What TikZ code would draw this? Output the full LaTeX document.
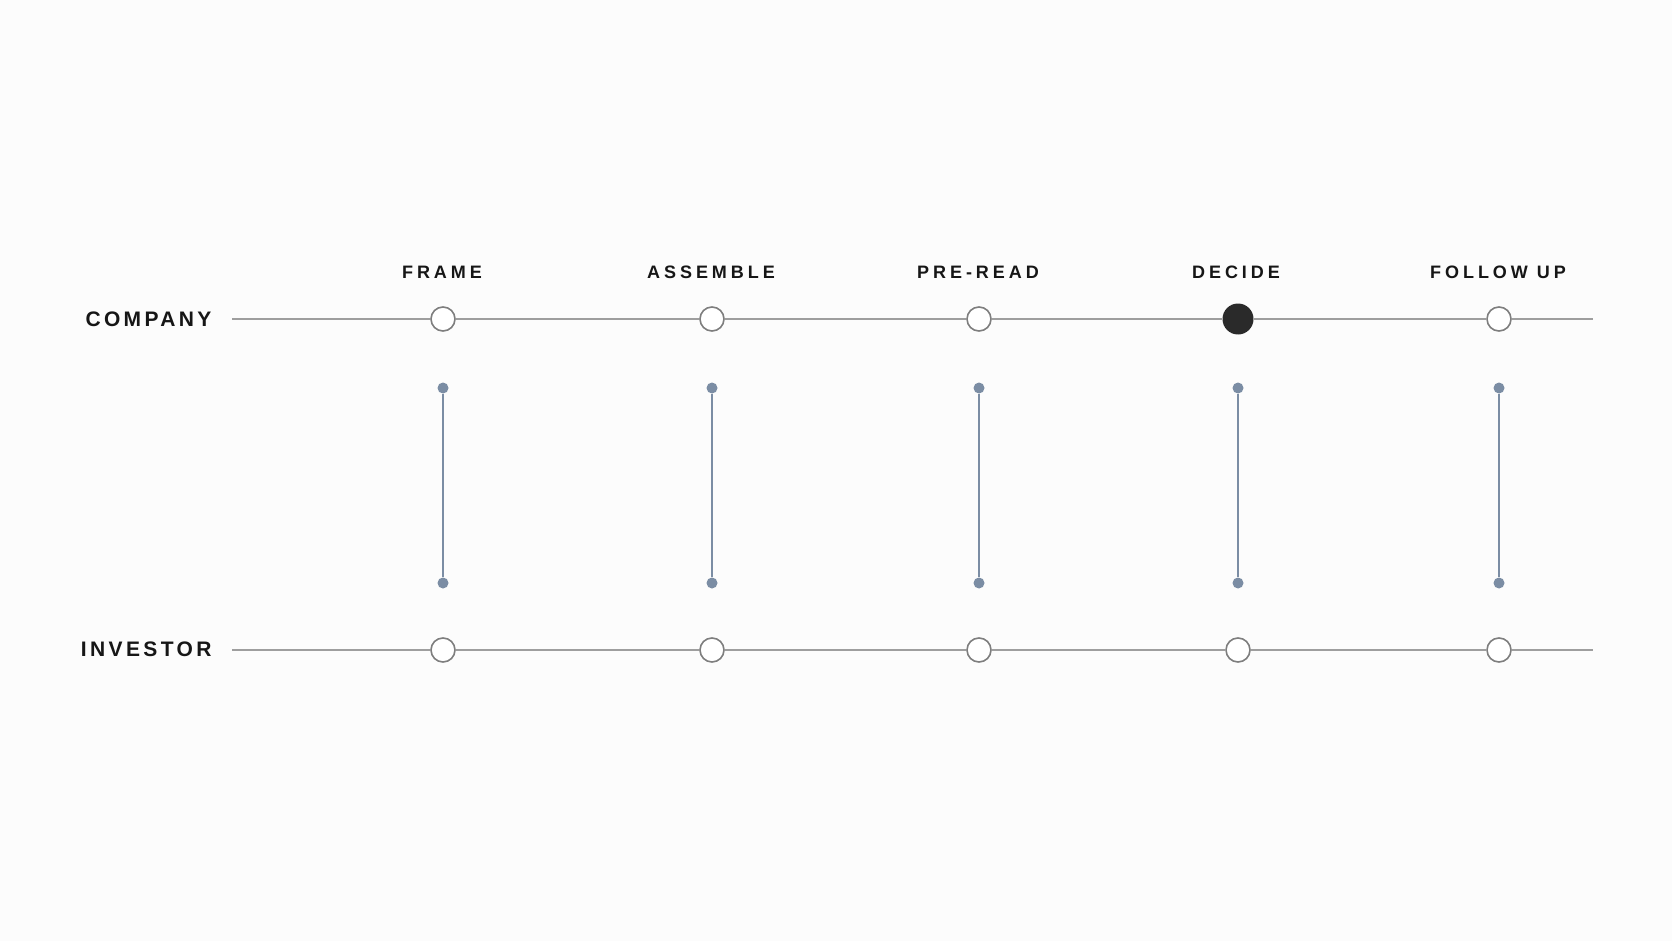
\documentclass[tikz,border=0pt]{standalone}
\usepackage{fontspec}
\newfontfamily\stagefont[LetterSpace=22]{Liberation Sans}
\newfontfamily\rolefont[LetterSpace=16]{Liberation Sans}
\definecolor{bgpaper}{HTML}{FCFCFC}
\definecolor{railgray}{HTML}{9E9E9E}
\definecolor{ringgray}{HTML}{7E7E7E}
\definecolor{linkblue}{HTML}{7B8DA4}
\definecolor{inkdark}{HTML}{2A2A2A}
\definecolor{textdark}{HTML}{161616}

\begin{document}
\begin{tikzpicture}[x = 1pt, y = -1pt,
    ring/.style = {circle, draw=ringgray, line width=1.6pt, fill=white, minimum size=24pt, inner sep=0pt},
    current/.style = {circle, fill=inkdark, minimum size=31pt, inner sep=0pt},
    pin/.style = {circle, fill=linkblue, minimum size=11pt, inner sep=0pt},
    rail/.style = {draw=railgray, line width=1.4pt},
    link/.style = {draw=linkblue, line width=1.8pt},
    stage/.style = {anchor=base, text=textdark, font=\stagefont\bfseries\fontsize{18}{22}\selectfont},
    role/.style = {anchor=base east, text=textdark, font=\rolefont\bfseries\fontsize{21}{25}\selectfont}]
    % 背景与边界
    \fill[bgpaper] (0,0) rectangle (1672,941);

    % 左侧角色标签
    \node[role] (company) at (215,326) {COMPANY};
    \node[role] (investor) at (215,656) {INVESTOR};

    % 上方阶段标签
    \node[stage] (frame) at (442,278) {FRAME};
    \node[stage] (assemble) at (711,278) {ASSEMBLE};
    \node[stage] (preread) at (978,278) {PRE-READ};
    \node[stage] (decide) at (1236,278) {DECIDE};
    \node[stage] (followup) at (1498,278) {FOLLOW UP};

    % Company 一行的圆点
    \coordinate (company_start) at (232,319);
    \coordinate (company_end) at (1593,319);
    \node[ring] (c_frame) at (443,319) {};
    \node[ring] (c_assemble) at (712,319) {};
    \node[ring] (c_preread) at (979,319) {};
    \node[current] (c_decide) at (1238,319) {};
    \node[ring] (c_followup) at (1499,319) {};

    % Investor 一行的圆点
    \coordinate (investor_start) at (232,650);
    \coordinate (investor_end) at (1593,650);
    \node[ring] (i_frame) at (443,650) {};
    \node[ring] (i_assemble) at (712,650) {};
    \node[ring] (i_preread) at (979,650) {};
    \node[ring] (i_decide) at (1238,650) {};
    \node[ring] (i_followup) at (1499,650) {};

    % 两条横线
    \draw[rail] (company_start) -- (c_frame) -- (c_assemble) -- (c_preread) -- (c_decide) -- (c_followup) -- (company_end);
    \draw[rail] (investor_start) -- (i_frame) -- (i_assemble) -- (i_preread) -- (i_decide) -- (i_followup) -- (investor_end);

    % 中间竖线两端的小圆点
    \node[pin] (t_frame) at (443,388) {};
    \node[pin] (b_frame) at (443,583) {};
    \node[pin] (t_assemble) at (712,388) {};
    \node[pin] (b_assemble) at (712,583) {};
    \node[pin] (t_preread) at (979,388) {};
    \node[pin] (b_preread) at (979,583) {};
    \node[pin] (t_decide) at (1238,388) {};
    \node[pin] (b_decide) at (1238,583) {};
    \node[pin] (t_followup) at (1499,388) {};
    \node[pin] (b_followup) at (1499,583) {};

    % 连接两端小圆点的竖线
    \draw[link] (t_frame) -- (b_frame);
    \draw[link] (t_assemble) -- (b_assemble);
    \draw[link] (t_preread) -- (b_preread);
    \draw[link] (t_decide) -- (b_decide);
    \draw[link] (t_followup) -- (b_followup);
\end{tikzpicture}
\end{document}
